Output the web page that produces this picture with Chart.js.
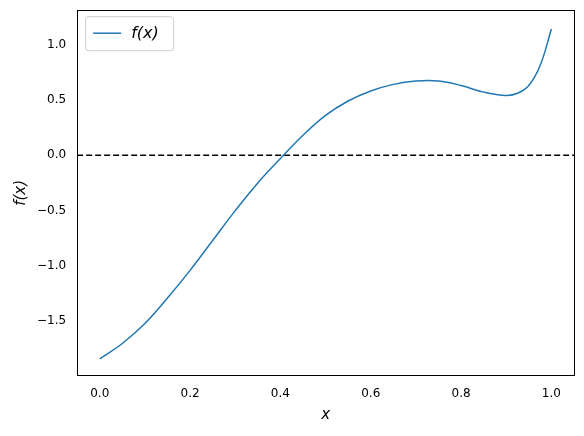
<!DOCTYPE html>
<html><head><meta charset="utf-8">
<script src="https://cdn.jsdelivr.net/npm/chart.js@4"></script>
<style>body{margin:0;background:#fff}#w{width:584px;height:436px}</style>
</head><body><div id="w"><canvas id="c"></canvas></div>
<script>
const xs=[0,0.05,0.1,0.15,0.2,0.25,0.3,0.35,0.4,0.45,0.5,0.55,0.6,0.65,0.7,0.75,0.8,0.85,0.9,0.925,0.95,0.975,1.0];
const fx=[-1.84,-1.70,-1.52,-1.29,-1.04,-0.77,-0.50,-0.25,-0.03,0.18,0.36,0.49,0.58,0.64,0.67,0.67,0.63,0.57,0.54,0.56,0.63,0.81,1.14];
const xTicks=[0,0.2,0.4,0.6,0.8,1.0];
const yTicks=[-1.5,-1.0,-0.5,0.0,0.5,1.0];
const legendLabel='f(x)';
const framePlugin={id:'fr',afterDraw(ch){const c=ch.ctx,a=ch.chartArea;c.save();c.strokeStyle='#000';c.lineWidth=1;
c.strokeRect(Math.round(a.left)+0.5,Math.round(a.top)+0.5,Math.round(a.right-a.left),Math.round(a.bottom-a.top));c.restore();}};
const legendPlugin={id:'lg',afterDraw(ch){const c=ch.ctx,a=ch.chartArea;c.save();
const x=a.left+8,y=a.top+6;c.strokeStyle='#ccc';c.lineWidth=1;c.fillStyle='rgba(255,255,255,0.8)';
c.beginPath();c.roundRect(x+0.5,y+0.5,88,34,3);c.fill();c.stroke();
c.strokeStyle='#1f77b4';c.lineWidth=1.5;c.beginPath();c.moveTo(x+8,y+17);c.lineTo(x+36,y+17);c.stroke();
c.fillStyle='#000';c.font='italic 16px "DejaVu Sans"';c.textBaseline='middle';c.fillText(legendLabel,x+46,y+18);c.restore();}};
new Chart(document.getElementById('c'),{type:'scatter',
data:{datasets:[
{data:xs.map((x,i)=>({x,y:fx[i]})),showLine:true,borderColor:'#1f77b4',borderWidth:1.5,pointRadius:0,tension:0.4},
{data:[{x:-0.05,y:0},{x:1.05,y:0}],showLine:true,borderColor:'#000',borderWidth:1.5,borderDash:[6,3],pointRadius:0}
]},
options:{responsive:true,maintainAspectRatio:false,animation:false,
layout:{padding:{left:8,right:10,top:7,bottom:8}},
plugins:{legend:{display:false},tooltip:{enabled:false}},
scales:{
x:{type:'linear',min:-0.05,max:1.05,grid:{display:false},border:{color:'#000'},
afterBuildTicks:s=>{s.ticks=xTicks.map(v=>({value:v}));},
ticks:{color:'#000',font:{size:12,family:'DejaVu Sans'},callback:v=>v.toFixed(1)},
title:{display:true,text:'x',color:'#000',font:{size:15,style:'italic',family:'DejaVu Sans'},padding:{top:2}}},
y:{min:-1.99,max:1.31,grid:{display:false},border:{color:'#000'},
afterBuildTicks:s=>{s.ticks=yTicks.map(v=>({value:v}));},
ticks:{color:'#000',font:{size:12,family:'DejaVu Sans'},callback:v=>(v<0?'\u2212':'')+Math.abs(v).toFixed(1)},
title:{display:true,text:'f(x)',color:'#000',font:{size:15,style:'italic',family:'DejaVu Sans'}}}
}},plugins:[framePlugin,legendPlugin]});
</script></body></html>
